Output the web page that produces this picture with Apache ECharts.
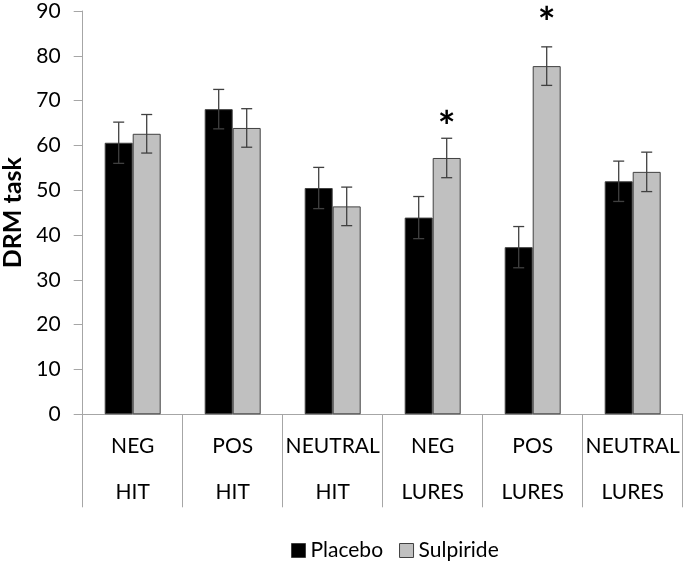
<!DOCTYPE html>
<html><head><meta charset="utf-8">
<script src="https://cdn.jsdelivr.net/npm/echarts@6/dist/echarts.min.js"></script>
<style>html,body{margin:0;padding:0;background:#fff}#c{width:686px;height:564px}</style>
</head><body><div id="c"></div>
<script>
const categories = ['NEG\nHIT', 'POS\nHIT', 'NEUTRAL\nHIT', 'NEG\nLURES', 'POS\nLURES', 'NEUTRAL\nLURES'];
const placebo = [60.6, 68.1, 50.5, 43.9, 37.3, 52.0];
const sulpiride = [62.6, 63.9, 46.4, 57.2, 77.7, 54.1];
const placeboErr = [4.6, 4.4, 4.6, 4.7, 4.6, 4.5];
const sulpirideErr = [4.3, 4.3, 4.3, 4.4, 4.3, 4.4];
const starLevels = [null, null, null, 66.3, 89.5, null];
const yMin = 0, yMax = 90, yInterval = 10;

const FONT = 'Lato';
const chart = echarts.init(document.getElementById('c'));

function errRender(side) {
  return function (params, api) {
    const i = api.value(0);
    const v = api.value(1), e = api.value(2);
    const band = api.size([1, 0])[0];
    const x = api.coord([i, v])[0] + side * band * 0.14;
    const top = api.coord([i, v + e])[1], bot = api.coord([i, v - e])[1];
    const cap = 5.5;
    const style = { stroke: '#404040', lineWidth: 1.3 };
    return { type: 'group', children: [
      { type: 'line', shape: { x1: x, y1: top, x2: x, y2: bot }, style: style },
      { type: 'line', shape: { x1: x - cap, y1: top, x2: x + cap, y2: top }, style: style },
      { type: 'line', shape: { x1: x - cap, y1: bot, x2: x + cap, y2: bot }, style: style }
    ] };
  };
}

const starData = [];
starLevels.forEach(function (v, i) { if (v != null) starData.push([i, v]); });

chart.setOption({
  animation: false,
  grid: { left: 82.7, right: 3.3, top: 11, bottom: 149.7, containLabel: false, outerBoundsMode: 'none' },
  legend: {
    left: 286, top: 535, itemWidth: 14, itemHeight: 14, itemGap: 16, icon: 'rect',
    textStyle: { fontFamily: FONT, fontSize: 21, color: '#000' },
    data: [
      { name: 'Placebo', itemStyle: { color: '#000', borderColor: '#404040', borderWidth: 1 } },
      { name: 'Sulpiride', itemStyle: { color: '#c0c0c0', borderColor: '#404040', borderWidth: 1 } }
    ]
  },
  xAxis: {
    type: 'category', data: categories,
    axisLine: { lineStyle: { color: '#a6a6a6', width: 1 } },
    axisTick: { show: true, interval: 0, length: 93, lineStyle: { color: '#a6a6a6' } },
    axisLabel: { interval: 0, margin: 9, lineHeight: 46, fontFamily: FONT, fontSize: 21, color: '#000' }
  },
  yAxis: {
    type: 'value', min: yMin, max: yMax, interval: yInterval,
    name: 'DRM task', nameLocation: 'middle', nameGap: 54,
    nameTextStyle: { fontFamily: FONT, fontSize: 25, fontWeight: 'bold', color: '#000' },
    axisLine: { show: true, lineStyle: { color: '#a6a6a6', width: 1 } },
    axisTick: { show: true, length: 9, lineStyle: { color: '#a6a6a6' } },
    splitLine: { show: false },
    axisLabel: { margin: 22, fontFamily: FONT, fontSize: 21, color: '#000' }
  },
  series: [
    { name: 'Placebo', type: 'bar', data: placebo, barWidth: '28%', barGap: '0%',
      itemStyle: { color: '#000', borderColor: '#404040', borderWidth: 1 } },
    { name: 'Sulpiride', type: 'bar', data: sulpiride, barWidth: '28%', barGap: '0%',
      itemStyle: { color: '#c0c0c0', borderColor: '#404040', borderWidth: 1 } },
    { type: 'custom', renderItem: errRender(-1), z: 5,
      data: placebo.map(function (v, i) { return [i, v, placeboErr[i]]; }) },
    { type: 'custom', renderItem: errRender(1), z: 5,
      data: sulpiride.map(function (v, i) { return [i, v, sulpirideErr[i]]; }) },
    { type: 'custom', z: 6, data: starData,
      renderItem: function (params, api) {
        const band = api.size([1, 0])[0];
        const p = api.coord([api.value(0), api.value(1)]);
        return { type: 'text', x: p[0] + band * 0.14, y: p[1] + 11,
          style: { text: '*', fontFamily: FONT, fontSize: 42, fontWeight: 'bold', fill: '#000',
            textAlign: 'center', textVerticalAlign: 'middle' } };
      } }
  ]
});
</script></body></html>
